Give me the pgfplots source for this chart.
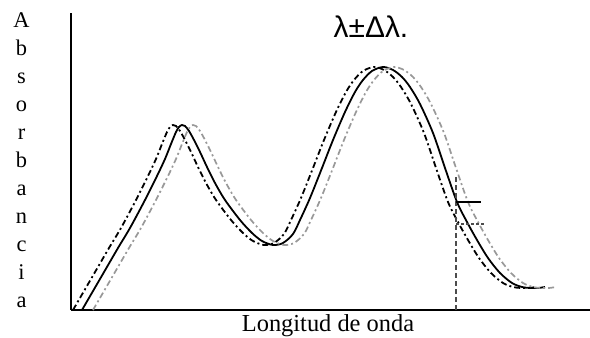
\documentclass[border=0pt]{standalone}
\usepackage{fontspec}
\setmainfont{Liberation Serif}
\newfontfamily\titlefont{Liberation Sans}
\usepackage{pgfplots}
\usepackage{pgfplotstable}
\pgfplotsset{compat=1.18}

% Absorption spectrum and the same band shifted by -/+ delta lambda
\pgfplotstableread{
x y
82 0
100 31
118 62
130 82
145 110
157 134
165 151
171 166
176 178
179 183
182 185
185 184
189 179
194 170
200 158
207 143
215 127
225 110
240 90
252 77
262 69
273 65
283 67
293 76
300 90
310 112
322 142
333 170
345 198
355 218
363 230
372 239
383 243
393 240
402 233
410 223
420 206
433 177
445 142
457 108
467 88
477 70
488 52
500 37
512 27
522 23
530 22
538 22
545 23
}\bandcentre

\pgfplotstableread{
x y
73 0
91 31
109 62
121 82
136 110
148 134
156 151
162 166
167 178
170 183
173 185
176 184
180 179
185 170
191 158
198 143
206 127
216 110
231 90
243 77
253 69
264 65
274 67
284 76
291 90
301 112
313 142
324 170
336 198
346 218
354 230
363 239
374 243
384 240
393 233
401 223
411 206
424 177
436 142
448 108
458 88
468 70
479 52
491 37
503 27
513 23
521 22
529 22
536 23
}\bandminus

\pgfplotstableread{
x y
93 0
111 31
129 62
141 82
156 110
168 134
176 151
182 166
187 178
190 183
193 185
196 184
200 179
205 170
211 158
218 143
226 127
236 110
251 90
263 77
273 69
284 65
294 67
304 76
311 90
321 112
333 142
344 170
356 198
366 218
374 230
383 239
394 243
404 240
413 233
421 223
431 206
444 177
456 142
468 108
478 88
488 70
499 52
511 37
523 27
533 23
541 22
549 22
556 23
}\bandplus

\begin{document}
\begin{tikzpicture}
\begin{axis}[
  scale only axis, width=519bp, height=297bp,
  xmin=71, xmax=590, ymin=0, ymax=297,
  axis lines*=left,
  axis line style={line width=1.5bp, black},
  xtick=\empty, ytick=\empty,
  clip=false,
]
\addplot[black, line width=1.8bp, smooth] table {\bandcentre};
\addplot[black, line width=1.8bp, smooth,
  dash pattern=on 6bp off 3bp on 2bp off 3bp] table {\bandminus};
\addplot[gray!80, line width=1.7bp, smooth,
  dash pattern=on 6bp off 3bp on 2bp off 3bp] table {\bandplus};
% reading at a fixed wavelength
\addplot[gray!60!black, line width=1.5bp, dash pattern=on 5bp off 3bp]
  coordinates {(456,0) (456,135)};
\addplot[black, line width=1.5bp] coordinates {(456,108) (481,108)};
\addplot[gray!60!black, line width=1.4bp, dash pattern=on 3bp off 2bp]
  coordinates {(456,86) (484,86)};
\coordinate (tl) at (axis cs:0,310);
\coordinate (br) at (axis cs:590,-24);
\end{axis}
\pgfresetboundingbox
\path (tl) rectangle (br);
\begin{scope}[shift={(tl)}, x=1bp, y=-1bp]
  \foreach \c [count=\i from 0] in {A,b,s,o,r,b,a,n,c,i,a}
    \node[anchor=base, inner sep=0pt, font=\fontsize{22.5}{27}\selectfont]
      at (21.5, 28+28*\i) {\c};
  \node[anchor=base, inner sep=0pt, font=\fontsize{24.5}{29}\selectfont]
    at (328, 332) {Longitud de onda};
  \node[anchor=base, inner sep=0pt, font=\titlefont\fontsize{30}{36}\selectfont]
    at (371, 38) {λ±Δλ.};
\end{scope}
\end{tikzpicture}
\end{document}
